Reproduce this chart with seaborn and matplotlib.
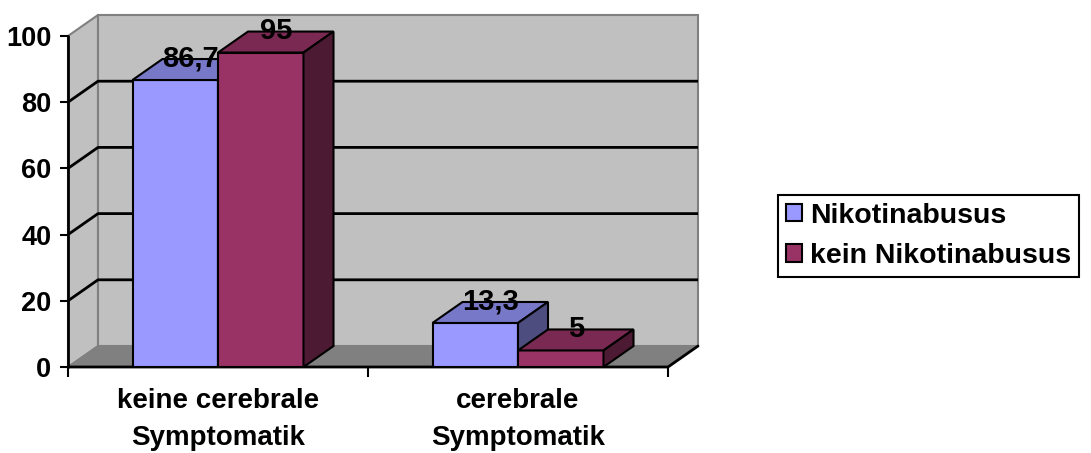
import matplotlib
matplotlib.use("Agg")
import matplotlib.pyplot as plt
from matplotlib.patches import Polygon, Rectangle, Patch
import pandas as pd
import seaborn as sns

# --- data -------------------------------------------------------------
categories = ["keine cerebrale\nSymptomatik", "cerebrale\nSymptomatik"]
series = ["Nikotinabusus", "kein Nikotinabusus"]
nikotinabusus = [86.7, 13.3]
kein_nikotinabusus = [95, 5]
yticks = [0, 20, 40, 60, 80, 100]

df = pd.DataFrame({
    "Gruppe": categories * 2,
    "Serie": [series[0]] * len(categories) + [series[1]] * len(categories),
    "Prozent": nikotinabusus + kein_nikotinabusus,
})

# --- style ------------------------------------------------------------
sns.set_theme(style="white")
plt.rcParams["font.family"] = ["Liberation Sans", "DejaVu Sans"]
plt.rcParams["font.weight"] = "bold"
plt.rcParams["text.color"] = "black"
plt.rcParams["xtick.labelcolor"] = "black"
plt.rcParams["ytick.labelcolor"] = "black"

front = {"Nikotinabusus": "#9999FF", "kein Nikotinabusus": "#993366"}
top = {"Nikotinabusus": "#7878C8", "kein Nikotinabusus": "#7A2952"}
side = {"Nikotinabusus": "#4D4D80", "kein Nikotinabusus": "#4D1A33"}
wall = "#C0C0C0"
floor = "#808080"
edge_grey = "#808080"

# depth offset of the pseudo-3D box (x in category units, y in value units)
DX, DY = 0.1, 6.34

W, H = 1091, 453
fig = plt.figure(figsize=(W / 100, H / 100), dpi=100, facecolor="white")
ax = fig.add_axes([68 / W, (H - 367) / H, 630 / W, 352 / H])
ax.patch.set_visible(False)

# --- walls and floor --------------------------------------------------
ax.add_patch(Polygon([(-0.5, 0), (-0.5, 100), (-0.5 + DX, 100 + DY), (-0.5 + DX, DY)],
                     closed=True, fc=wall, ec=edge_grey, lw=1.5, zorder=0, clip_on=False))
ax.add_patch(Rectangle((-0.5 + DX, DY), 2.0, 100, fc=wall, ec=edge_grey, lw=1.5,
                       zorder=0, clip_on=False))
ax.add_patch(Polygon([(-0.5, 0), (1.5, 0), (1.5 + DX, DY), (-0.5 + DX, DY)],
                     closed=True, fc=floor, ec=floor, lw=1.0, zorder=0.5, clip_on=False))

# gridlines: diagonal on the side wall, horizontal on the back wall
for v in yticks[1:-1]:
    ax.plot([-0.5, -0.5 + DX, 1.5 + DX], [v, v + DY, v + DY], color="black", lw=2,
            zorder=1, clip_on=False, solid_capstyle="butt")

# front axes lines
ax.plot([-0.5, -0.5], [0, 100], color="black", lw=2, zorder=2, clip_on=False)
ax.plot([-0.5, 1.5, 1.5 + DX], [0, 0, DY], color="black", lw=2, zorder=2, clip_on=False)

# --- bars -------------------------------------------------------------
sns.barplot(data=df, x="Gruppe", y="Prozent", hue="Serie", hue_order=series,
            palette=front, saturation=1, width=0.57, edgecolor="black", linewidth=1.5,
            legend=False, ax=ax)

for i, (cont, name) in enumerate(zip(ax.containers, series)):
    z = 3 + i
    for bar in cont:
        bar.set_zorder(z)
        x0, w, h = bar.get_x(), bar.get_width(), bar.get_height()
        ax.add_patch(Polygon([(x0, h), (x0 + w, h), (x0 + w + DX, h + DY), (x0 + DX, h + DY)],
                             closed=True, fc=top[name], ec="black", lw=1.5, zorder=z + 0.1,
                             clip_on=False))
        ax.add_patch(Polygon([(x0 + w, 0), (x0 + w, h), (x0 + w + DX, h + DY), (x0 + w + DX, DY)],
                             closed=True, fc=side[name], ec="black", lw=1.5, zorder=z + 0.1,
                             clip_on=False))
        label = f"{h:g}".replace(".", ",")
        ax.text(x0 + w / 2 + DX / 2, h + DY / 2 + 0.8, label, ha="center", va="baseline",
                fontsize=21, fontweight="bold", color="black", zorder=10)

# --- axes -------------------------------------------------------------
ax.set_xlim(-0.5, 1.5 + DX)
ax.set_ylim(0, 100 + DY)
for s in ax.spines.values():
    s.set_visible(False)
ax.set_xlabel("")
ax.set_ylabel("")

ax.set_yticks(yticks)
ax.set_yticklabels([str(t) for t in yticks], fontsize=19.5, fontweight="bold", color="black")
ax.tick_params(axis="y", left=True, length=6, width=1.5, color="black", pad=6)

ax.set_xticks(range(len(categories)))
ax.set_xticklabels(categories, fontsize=20, fontweight="bold", linespacing=1.55,
                   color="black")
ax.set_xticks([-0.5, 0.5, 1.5], minor=True)
ax.tick_params(axis="x", which="major", bottom=True, length=0, pad=15)
ax.tick_params(axis="x", which="minor", bottom=True, length=7, width=1.5, color="black",
               direction="out")

# --- legend -----------------------------------------------------------
handles = [Patch(fc=front[s], ec="black", lw=1.5) for s in series]
leg = ax.legend(handles, series, loc="center left",
                bbox_to_anchor=(778 / W, 1 - 236 / H), bbox_transform=fig.transFigure,
                frameon=True, fancybox=False, edgecolor="black", framealpha=1,
                prop={"size": 20.5, "weight": "bold"}, handlelength=0.55, handleheight=0.55,
                handletextpad=0.3, borderpad=0.28, labelspacing=0.5, borderaxespad=0)
leg.get_frame().set_linewidth(1.5)

fig.savefig("out.png", dpi=100, facecolor="white")
